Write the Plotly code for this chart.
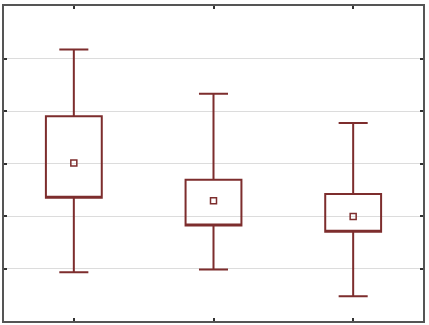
import plotly.graph_objects as go

groups = [0, 1, 2]
upper = [5.17, 4.33, 3.77]
q3 = [3.90, 2.69, 2.42]
means = [3.01, 2.29, 1.99]
q1 = [2.35, 1.82, 1.70]
lower = [0.93, 0.98, 0.47]
y_ticks = [1, 2, 3, 4, 5]

col = "rgb(125,45,45)"

fig = go.Figure()
fig.add_trace(go.Box(
    x=groups, q1=q1, q3=q3, median=q1, lowerfence=lower, upperfence=upper,
    width=0.4, whiskerwidth=0.52, boxpoints=False,
    fillcolor="rgba(0,0,0,0)", line=dict(color=col, width=2),
    hoverinfo="skip", showlegend=False,
))
fig.add_trace(go.Scatter(
    x=groups, y=means, mode="markers",
    marker=dict(symbol="square-open", size=6, color=col, line=dict(color=col, width=1.5)),
    showlegend=False,
))

axis_common = dict(showline=True, linecolor="#555555", linewidth=2, mirror="ticks",
                   ticks="inside", ticklen=3, tickwidth=1.5, tickcolor="#333333",
                   showticklabels=False, zeroline=False)
fig.update_xaxes(range=[-0.5, 2.5], tickvals=groups, showgrid=False, **axis_common)
fig.update_yaxes(range=[0, 6], tickvals=y_ticks, showgrid=True, gridcolor="#dcdcdc",
                 gridwidth=1, **axis_common)
fig.update_layout(width=429, height=325, margin=dict(l=4, r=4, t=4, b=4),
                  plot_bgcolor="white", paper_bgcolor="white")
fig.write_html("out.html", config={"displayModeBar": False},
               post_script="document.body.style.margin='0';document.body.style.overflow='hidden';")
